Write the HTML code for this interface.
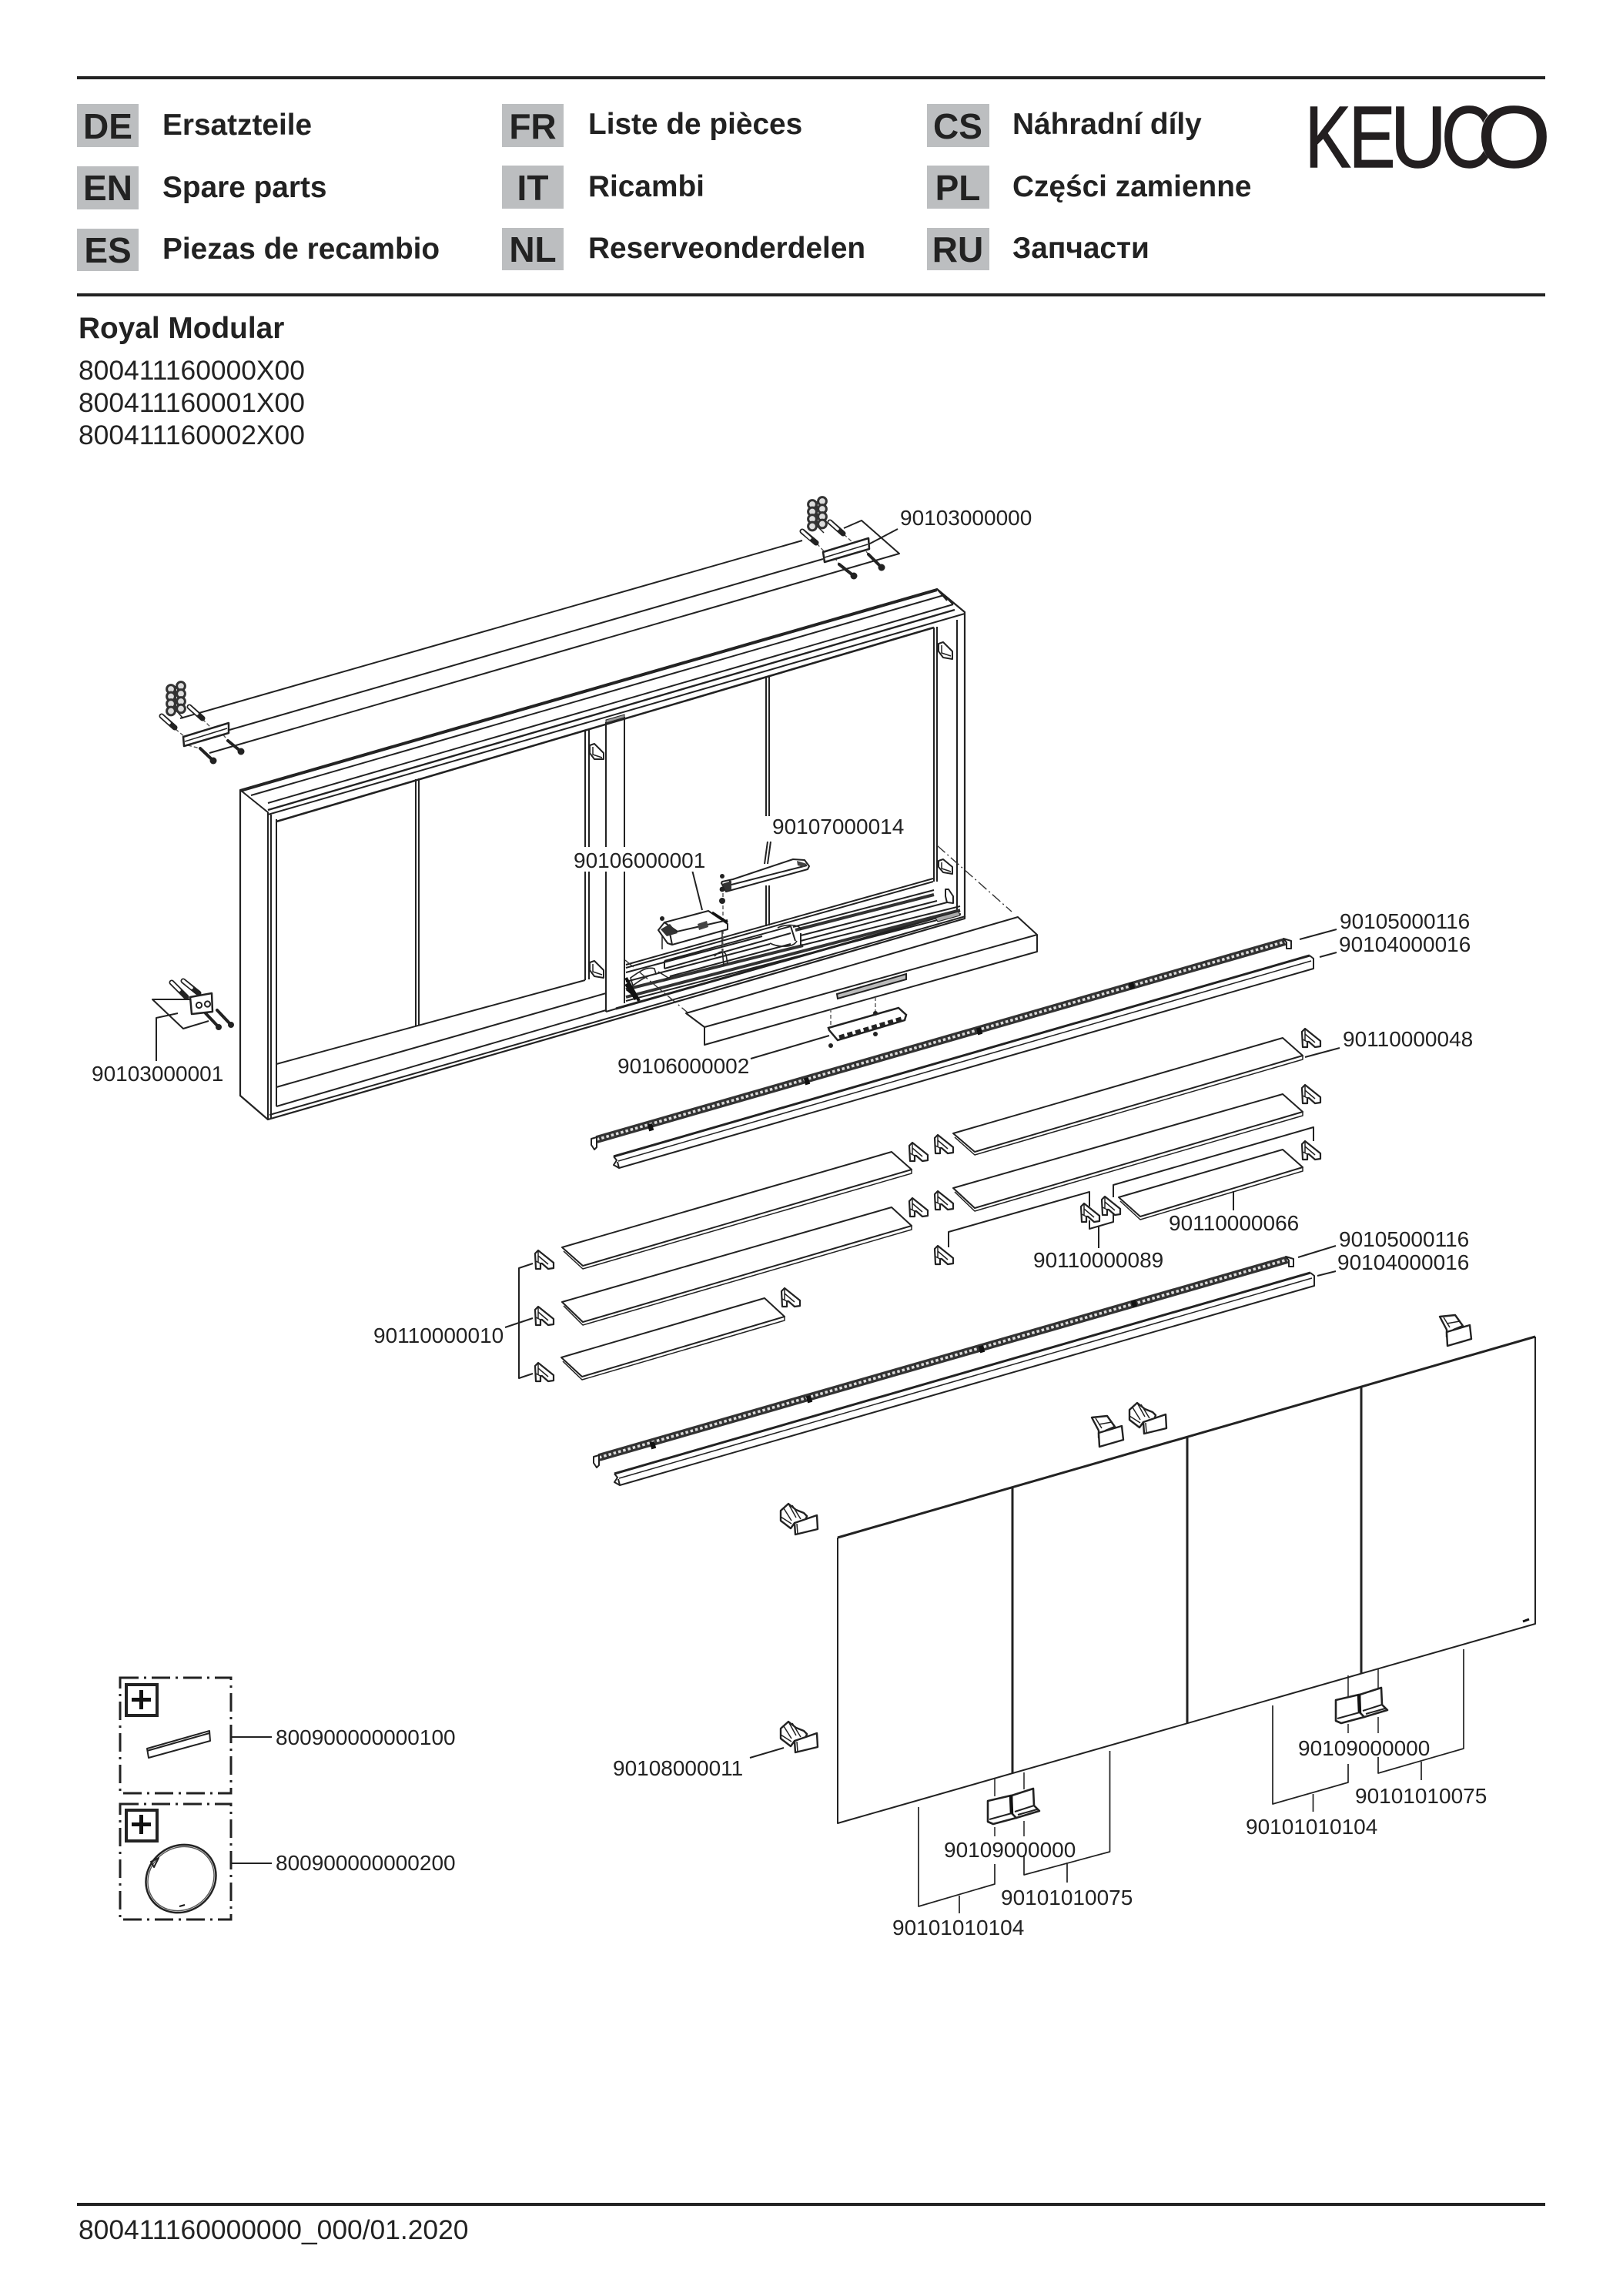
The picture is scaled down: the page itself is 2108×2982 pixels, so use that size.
<!DOCTYPE html>
<html><head><meta charset="utf-8"><style>
html,body{margin:0;padding:0;background:#fff}
svg{display:block}
text{font-family:"Liberation Sans","Noto Sans CJK SC",sans-serif;fill:#222}
.b{font-weight:700}.h{font-size:38.8px;font-weight:700}.c{font-size:46px;font-weight:700;text-anchor:middle}
.n{font-size:35.4px}.l{font-size:28px}
.s{fill:none;stroke:#222;stroke-width:2;stroke-linejoin:round}
.t{fill:none;stroke:#222;stroke-width:1.5}
.k{fill:none;stroke:#222;stroke-width:3;stroke-linejoin:round}
.f{fill:#fff;stroke:#222;stroke-width:2;stroke-linejoin:round}
.d{fill:none;stroke:#333;stroke-width:1.4;stroke-dasharray:14 4 2 4}
.q{fill:none;stroke:#555;stroke-width:1.4;stroke-dasharray:5 3}
.logo{font-size:113px;fill:#231f20;stroke:#231f20;stroke-width:1.5}
</style></head><body>
<svg xmlns="http://www.w3.org/2000/svg" width="2108" height="2982" viewBox="0 0 2108 2982">
<defs>
<g id="clip"><path class="f" d="M-12-8L-8-12L12 4L12 11L5 12L-3 5L-5 5L-5 12L-11 12Z" style="stroke-width:2.2"/><path class="t" d="M-8-12L-8 3M-8-5L5 6M-11 2L-5 5"/></g>
<g id="washers"><path d="M6 0L6 34" stroke="#333" stroke-width="2"/><circle cx="0" cy="4" r="5.4"/><circle cx="0" cy="13.500" r="5.4"/><circle cx="0" cy="23" r="5.4"/><circle cx="0" cy="32.500" r="5.4"/><circle cx="13" cy="0" r="5.4"/><circle cx="13" cy="10" r="5.4"/><circle cx="13" cy="20" r="5.4"/><circle cx="13" cy="29.500" r="5.4"/></g>
<g id="clipA"><path class="f" d="M-24-11L-14-20L-4-12L6-8L10-4L8 2L-6 5L-11 12L-24 2Z" style="stroke-width:2.4"/><path class="t" d="M-14-20L-4-2M-9-18L2 0M-24-3L-10 6M-20-14L-10 2"/><path class="f" d="M-6 5L23-5L24 13L-5 20Z" style="stroke-width:2.4"/><path class="t" d="M-3 6L-2 19"/></g>
<g id="clipB"><path class="f" d="M-21-18L-1-20L9-6L-3-1L-12 8L-12-1Z" style="stroke-width:2.4"/><path class="t" d="M-21-18L-12-1M-12-9L5-12M-16-17L-8-4"/><path class="f" d="M-12 2L18-7L20 11L-11 20Z" style="stroke-width:2.4"/></g>
<g id="handle"><path class="f" style="stroke-width:2.6" d="M1283 2339L1313 2332L1314 2355L1320 2361L1290 2369L1283 2366Z"/><path class="f" style="stroke-width:2.6" d="M1314 2332L1342 2323L1343 2345L1350 2352L1320 2361L1314 2355Z"/><path d="M1313 2332L1314 2356" stroke="#111" stroke-width="4.500" fill="none"/><path class="s" d="M1285 2363L1314 2355M1318 2353L1343 2345M1322 2357L1347 2350"/></g>
<g id="prof"><path class="k" d="M798 1914L1702 1653"/><path class="t" d="M804 1920L1704 1660"/><path class="s" d="M798 1914L802 1919L798 1925L805 1929L1707 1670L1707 1657L1702 1653"/><path class="s" d="M803 1921L805 1929"/></g>
<g id="led"><path d="M778 1893L1672 1636" stroke="#333" stroke-width="10" fill="none"/><path d="M778 1893L1672 1636" stroke="#ddd" stroke-width="3.500" stroke-dasharray="3.500 3" fill="none"/><path d="M845 1878l6-1.700M1048 1818l6-1.700M1272 1753l6-1.700M1470 1694l6-1.700" stroke="#111" stroke-width="9" fill="none"/><path class="f" d="M771 1892L778 1890L778 1903L775 1906L771 1900Z"/><path class="f" d="M1670 1632L1680 1635L1680 1645L1674 1645L1674 1637Z"/></g>
</defs>

<!-- header -->
<rect x="100" y="99" width="1907" height="4" fill="#222"/>
<rect x="100" y="381" width="1907" height="4" fill="#222"/>
<rect x="100" y="2861" width="1907" height="4" fill="#222"/>
<g fill="#bcbec0">
<rect x="100" y="135" width="80" height="56"/><rect x="100" y="216" width="80" height="56"/><rect x="100" y="297" width="80" height="55"/>
<rect x="652" y="135" width="80" height="56"/><rect x="652" y="215" width="80" height="56"/><rect x="652" y="296" width="80" height="55"/>
<rect x="1204" y="135" width="81" height="56"/><rect x="1204" y="215" width="81" height="56"/><rect x="1204" y="296" width="81" height="55"/>
</g>
<text class="c" x="140" y="180">DE</text><text class="c" x="140" y="260">EN</text><text class="c" x="140" y="341">ES</text>
<text class="c" x="692" y="180">FR</text><text class="c" x="692" y="260">IT</text><text class="c" x="692" y="340">NL</text>
<text class="c" x="1244" y="180">CS</text><text class="c" x="1244" y="260">PL</text><text class="c" x="1244" y="340">RU</text>
<text class="h" x="211" y="175">Ersatzteile</text><text class="h" x="211" y="256">Spare parts</text><text class="h" x="211" y="336">Piezas de recambio</text>
<text class="h" x="764" y="174">Liste de pièces</text><text class="h" x="764" y="255">Ricambi</text><text class="h" x="764" y="335">Reserveonderdelen</text>
<text class="h" x="1315" y="174">Náhradní díly</text><text class="h" x="1315" y="255">Części zamienne</text><text class="h" x="1315" y="335">Запчасти</text>
<text class="logo" transform="translate(1695,217) scale(.79,1)">K</text>
<text class="logo" transform="translate(1752,217) scale(.8,1)">E</text>
<text class="logo" transform="translate(1806,217) scale(.89,1)">U</text>
<text class="logo" transform="translate(1872,217) scale(.83,1)">C</text>
<ellipse cx="1966.500" cy="177" rx="44" ry="43" fill="#fff"/>
<text class="logo" transform="translate(1919,217) scale(1.08,1)">O</text>
<text class="h" x="102" y="439">Royal Modular</text>
<text class="n" x="102" y="493">800411160000X00</text><text class="n" x="102" y="535">800411160001X00</text><text class="n" x="102" y="577">800411160002X00</text>
<text class="n" x="102" y="2908">800411160000000_000/01.2020</text>

<!-- wall bracket lines top -->
<path class="s" d="M234 933L1042 702M1096 686L1119 676L1168 719L272 978M298 948L1069 726M1128 707L1166 687"/>
<path class="t" d="M228 922L238 933M1062 684L1070 692"/>
<path class="q" d="M228 947L240 957M263 934L274 945M244 968L260 972M285 948L296 962"/>
<path class="q" d="M1061 706L1071 717M1096 694L1107 704M1084 724L1090 733M1120 710L1128 720"/>
<g fill="#ddd" stroke="#333" stroke-width="3"><use href="#washers" x="222" y="891"/><use href="#washers" x="1055" y="651"/></g>
<g fill="none" stroke-linecap="round">
<path d="M210 930L227 945M246 918L263 933M1042 690L1060 705M1078 678L1095 693M223 1276L242 1295M238 1274L258 1290" stroke="#222" stroke-width="7"/>
<path d="M210 930L220 939M246 918L256 927M1042 690L1052 699M1078 678L1088 687M223 1276L233 1286M238 1274L249 1283" stroke="#fff" stroke-width="3.500"/>
<path d="M260 972L277 988M296 962L313 976M1090 733L1109 748M1128 720L1145 737M267 1316L284 1334M282 1312L300 1331" stroke="#222" stroke-width="4"/>
</g>
<g fill="#222"><circle cx="277" cy="988" r="4.500"/><circle cx="313" cy="976" r="4.500"/><circle cx="1109" cy="748" r="4.500"/><circle cx="1145" cy="737" r="4.500"/><circle cx="284" cy="1334" r="4"/><circle cx="300" cy="1331" r="4"/></g>
<path class="f" d="M238 957L297 939L297 952L239 969Z" style="stroke-width:2.500"/><path class="t" d="M240 963L295 946"/>
<path class="f" d="M1069 717L1128 699L1129 713L1071 730Z" style="stroke-width:2.500"/><path class="t" d="M1071 724L1127 707"/>

<!-- cabinet -->
<path class="s" d="M312 1026L1217 765L1253 795L1253 1193L348 1454L312 1423Z" style="stroke-width:2.200"/>
<path class="s" d="M312 1028L1217 767M326 1033L1226 773M348 1043L1238 785"/>
<path class="s" d="M348 1052L1240 792" style="stroke-width:2.400"/>
<path class="s" d="M348 1058L1253 797M312 1026L348 1055L348 1454M352 1058L352 1452"/>
<path class="s" d="M359 1067L1213 815" style="stroke-width:2.600"/>
<path class="s" d="M359 1064L359 1437M1213 815L1213 1145M1217 814L1217 1145M1243 805L1243 1190"/>
<path class="s" d="M1217 765L1230 780M1226 773L1238 785"/>
<path class="s" d="M359 1382L760 1273M359 1412L787 1290M359 1437L787 1312M350 1448L1254 1190"/>
<path class="k" d="M800 1310L1247 1183"/>
<!-- dividers -->
<path class="s" d="M540 1012L540 1332M544 1011L544 1331M760 949L760 1273M765 948L765 1272M995 879L995 1060M999 878L999 1060M995 1150L995 1203M999 1150L999 1202"/>
<path class="s" d="M787 938L787 1314M811 931L811 1303M787 938L811 931M787 1314L811 1307"/>
<path d="M787 935L811 928L811 932L787 939Z" fill="#999" stroke="#222"/>
<!-- tracks -->
<path class="s" d="M813 1253L1212 1141M813 1257L1212 1145M863 1248L1027 1203M863 1258L1027 1212M863 1248L863 1258M813 1263L990 1216"/>
<path d="M1033 1208L1213 1162M813 1285L1043 1228M813 1295L1247 1182" stroke="#333" stroke-width="4" fill="none"/>
<path class="s" d="M1040 1215L1217 1170M1040 1228L1247 1177M813 1300L1248 1187M813 1275L1000 1226M1040 1212L1040 1228M1027 1203L1033 1222M1030 1204L1213 1156M1040 1222L1230 1172M870 1268L1027 1226"/>
<path d="M1215 1192L1245 1184L1247 1189L1218 1197Z" fill="#aaa" stroke="#222"/>
<g fill="none" stroke="#222" stroke-width="1.600">
<path d="M819 1270C830 1262 840 1255 850 1258L852 1265C842 1266 830 1274 822 1280ZM855 1262L868 1270M862 1274L872 1268"/>
<path d="M928 1242C934 1235 940 1234 943 1240L945 1252M938 1232L940 1255"/>
<path d="M1010 1205C1020 1200 1040 1200 1040 1208M1000 1225C1010 1230 1030 1232 1035 1222"/>
</g>
<path d="M813 1270L830 1300M815 1285L828 1296M813 1278L826 1298" stroke="#111" stroke-width="4" fill="none"/>
<!-- dashdot -->
<path class="d" d="M812 1247L893 1315M1217 1098L1314 1184"/>
<path class="t" d="M860 1233L860 1210M938 1230L938 1195"/>
<path class="q" d="M939 1160L939 1240"/>
<!-- cabinet clips -->
<g class="f"><path class="f" d="M766 968L772 966L784 978L784 986L772 986L766 978Z"/><path class="t" d="M770 970L770 980L782 984"/>
<path class="f" d="M766 1250L772 1248L784 1260L784 1270L772 1268L766 1260Z"/><path class="t" d="M770 1252L770 1262L782 1266"/>
<path class="f" d="M1219 836L1225 834L1237 846L1237 856L1225 854L1219 846Z"/><path class="t" d="M1223 838L1223 848L1235 852"/>
<path class="f" d="M1219 1118L1225 1116L1237 1126L1237 1135L1225 1133L1219 1126Z"/><path class="t" d="M1223 1120L1223 1128L1235 1132"/>
<path class="f" d="M1228 1155L1232 1155L1238 1164L1238 1173L1230 1172L1228 1164Z"/></g>

<!-- lid -->
<path class="s" d="M891 1316L1322 1191L1347 1214L1347 1236L915 1357L915 1334ZM915 1334L1347 1214"/>
<path class="s" d="M891 1316L915 1334"/>
<path d="M1087 1291L1177 1265L1177 1272L1088 1297Z" fill="#bbb" stroke="#222" stroke-width="2"/>
<path class="q" d="M1079 1310L1079 1333M1137 1295L1137 1317"/>
<path d="M1076 1335L1167 1309L1177 1318L1175 1325L1088 1351L1077 1338Z" fill="#fff" stroke="#222" stroke-width="2.500"/>
<path d="M1090 1347L1174 1322" stroke="#222" stroke-width="5" stroke-dasharray="7 4" fill="none"/>
<g fill="#222"><circle cx="1079" cy="1358" r="3"/><circle cx="1137" cy="1343" r="3"/><circle cx="1137" cy="1316" r="3"/></g>
<path class="s" d="M975 1375L1077 1345"/>

<!-- driver + box -->
<path class="f" d="M855 1208L863 1198L920 1183L945 1200L945 1207L873 1227L867 1225Z"/>
<path class="s" d="M863 1198L880 1210M873 1227L870 1212L945 1195"/>
<path d="M858 1207L870 1200L880 1212L866 1216Z" fill="#333"/><path d="M906 1200L918 1196L920 1204L908 1208Z" fill="#444"/><path d="M925 1185L945 1198" stroke="#111" stroke-width="3"/>
<circle cx="860" cy="1193" r="3" fill="#222"/>
<path class="f" d="M937 1147L938 1145L952 1142L1030 1116L1045 1117L1051 1125L1049 1129L943 1158Z"/>
<path class="s" d="M946 1150L1048 1124M948 1143L948 1156"/>
<path d="M938 1148L950 1144L950 1155L943 1158Z" fill="#333"/><path d="M1035 1118L1048 1122L1044 1126L1036 1124Z" fill="#444"/>
<g fill="#222"><circle cx="938" cy="1138" r="3"/><circle cx="938" cy="1155" r="3.400"/><circle cx="938" cy="1170" r="4"/></g>
<path class="s" d="M899 1130L912 1182M997 1093L993 1122M1001 1093L997 1122"/>

<!-- left wall bracket -->
<path class="f" d="M247 1295L275 1290L276 1314L249 1317Z" style="stroke-width:2.500"/>
<circle cx="258.500" cy="1305.500" r="3.600" fill="#fff" stroke="#222" stroke-width="2"/><circle cx="269.500" cy="1304" r="3.600" fill="#fff" stroke="#222" stroke-width="2"/>
<path class="s" d="M247 1298L198 1298L238 1336L271 1326M203 1378L203 1322L231 1316"/>

<!-- shelves -->
<g class="f">
<path class="f" d="M1238 1472L1666 1348L1692 1371L1266 1496Z"/><path class="t" d="M1240 1477L1266 1500L1692 1376L1692 1371"/>
<path class="f" d="M1238 1543L1666 1421L1692 1444L1266 1569Z"/><path class="t" d="M1240 1548L1266 1573L1692 1449L1692 1444"/>
<path class="f" d="M1453 1555L1666 1493L1692 1516L1481 1580Z"/><path class="t" d="M1455 1560L1481 1584L1692 1521L1692 1516"/>
<path class="f" d="M730 1620L1158 1496L1184 1519L757 1644Z"/><path class="t" d="M732 1625L757 1648L1184 1524L1184 1519"/>
<path class="f" d="M730 1691L1158 1568L1184 1592L757 1717Z"/><path class="t" d="M732 1696L757 1721L1184 1597L1184 1592"/>
<path class="f" d="M729 1763L993 1686L1019 1710L756 1788Z"/><path class="t" d="M731 1768L756 1792L1019 1715L1019 1710"/>
</g>
<use href="#clip" x="1703" y="1348"/><use href="#clip" x="1703" y="1421"/><use href="#clip" x="1703" y="1494"/><use href="#clip" x="1193" y="1496"/><use href="#clip" x="1226" y="1486"/><use href="#clip" x="1193" y="1568"/><use href="#clip" x="1226" y="1559"/><use href="#clip" x="1226" y="1630"/><use href="#clip" x="1027" y="1685"/><use href="#clip" x="1416" y="1575"/><use href="#clip" x="1443" y="1566"/><use href="#clip" x="707" y="1636"/><use href="#clip" x="707" y="1709"/><use href="#clip" x="707" y="1782"/>
<path class="s" d="M1602 1547L1602 1572M1415 1585L1415 1596L1446 1587L1446 1575M1427 1593L1427 1621M1415 1567L1415 1548L1232 1600L1232 1620M1446 1555L1446 1539L1706 1464L1706 1482M1695 1373L1740 1361"/>
<path class="s" d="M692 1641L674 1647L674 1790L692 1784M674 1718L692 1712M656 1724L674 1718"/>

<!-- rails -->
<use href="#led" x="-3" y="-413"/><use href="#led"/>
<use href="#prof" x="-1" y="-412"/><use href="#prof"/>
<path class="s" d="M1688 1220L1736 1207M1714 1243L1736 1237M1686 1633L1735 1618M1711 1657L1735 1651"/>

<!-- doors -->
<path class="s" d="M1088 1997L1088 2368L1994 2109L1994 1736"/>
<path class="k" d="M1088 1997L1994 1736M1315 1932L1315 2303M1542 1865L1542 2238M1768 1800L1768 2173"/>
<path d="M1978 2106l8-3" stroke="#111" stroke-width="3"/>
<use href="#clipA" x="1038" y="1973"/><use href="#clipA" x="1038" y="2256"/><use href="#clipA" x="1491" y="1842"/><use href="#clipB" x="1439" y="1859"/><use href="#clipB" x="1891" y="1728"/>
<path class="s" d="M974 2283L1018 2270"/>
<use href="#handle"/><use href="#handle" x="452" y="-131"/>
<path class="t" d="M1292 2310L1292 2333M1330 2302L1330 2324M1292 2373L1292 2385M1330 2365L1330 2385M1751 2176L1751 2203M1790 2168L1790 2193M1751 2239L1751 2251M1790 2230L1790 2251"/>
<path class="s" style="stroke-width:1.700" d="M1292 2421L1292 2447L1193 2476L1193 2347M1246 2462L1246 2485M1330 2409L1330 2435L1441.500 2405L1441.500 2274M1386 2419L1386 2445M1751 2291L1751 2315L1653 2343L1653 2215M1705.500 2330L1705.500 2353M1790 2282L1790 2303L1901 2271L1901 2142M1846 2288L1846 2312"/>

<!-- accessory boxes -->
<g fill="none" stroke="#222" stroke-width="3" stroke-dasharray="24 7 3 7">
<rect x="156" y="2179" width="144" height="150"/><rect x="156" y="2343" width="144" height="150"/>
</g>
<rect x="164" y="2188" width="40" height="40" fill="#fff" stroke="#222" stroke-width="4"/>
<rect x="164" y="2351" width="40" height="40" fill="#fff" stroke="#222" stroke-width="4"/>
<path d="M171 2207.500h25M183.500 2195v25M171 2369.500h25M183.500 2357v25" stroke="#111" stroke-width="5" fill="none"/>
<path class="s" d="M191 2271L272 2248L273 2261L193 2283ZM191 2274L272 2251"/>
<ellipse cx="235" cy="2440" rx="47" ry="42.500" fill="none" stroke="#222" stroke-width="2.500" transform="rotate(-36 235 2440)"/>
<ellipse cx="235" cy="2440" rx="44.500" ry="40" fill="none" stroke="#555" stroke-width="1.400" transform="rotate(-36 235 2440)"/>
<path class="s" d="M196 2418L206 2413L200 2425Z"/><path d="M233 2476l7-2" stroke="#111" stroke-width="2"/>
<path class="s" d="M300 2256L353 2256M300 2420L353 2420"/>

<!-- labels -->
<rect x="743" y="1100" width="176" height="32" fill="#fff"/><rect x="1001" y="1058" width="176" height="32" fill="#fff"/>
<g class="l">
<text x="1169" y="682">90103000000</text>
<text x="1003" y="1083">90107000014</text>
<text x="745" y="1127">90106000001</text>
<text x="119" y="1404">90103000001</text>
<text x="802" y="1394">90106000002</text>
<text x="1740" y="1206">90105000116</text>
<text x="1739" y="1236">90104000016</text>
<text x="1744" y="1359">90110000048</text>
<text x="1518" y="1598">90110000066</text>
<text x="1342" y="1646">90110000089</text>
<text x="1739" y="1619">90105000116</text>
<text x="1737" y="1649">90104000016</text>
<text x="485" y="1744">90110000010</text>
<text x="796" y="2306">90108000011</text>
<text x="1226" y="2412">90109000000</text>
<text x="1686" y="2280">90109000000</text>
<text x="1159" y="2513">90101010104</text>
<text x="1300" y="2474">90101010075</text>
<text x="1618" y="2382">90101010104</text>
<text x="1760" y="2342">90101010075</text>
<text x="358" y="2266">800900000000100</text>
<text x="358" y="2429">800900000000200</text>
</g>
</svg>
</body></html>
